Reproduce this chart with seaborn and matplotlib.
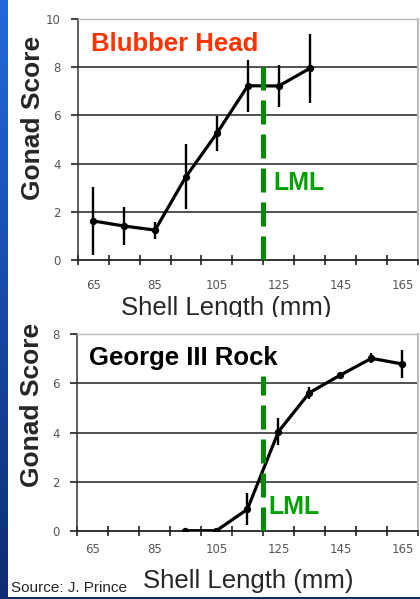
import numpy as np
import pandas as pd
import matplotlib
matplotlib.use("Agg")
import matplotlib.pyplot as plt
import seaborn as sns
from matplotlib.patches import Rectangle

sns.set_theme(style="white")
plt.rcParams['font.family'] = ['Liberation Sans', 'DejaVu Sans']

# ---- data ----
bh_length = [65, 75, 85, 95, 105, 115, 125, 135]
bh_score = [1.62, 1.41, 1.24, 3.46, 5.26, 7.23, 7.22, 7.95]
bh_err = [1.40, 0.80, 0.35, 1.35, 0.72, 1.08, 0.88, 1.42]

g3_length = [95, 105, 115, 125, 135, 145, 155, 165]
g3_score = [0.0, 0.0, 0.87, 4.03, 5.62, 6.34, 7.02, 6.79]
g3_err = [0.0, 0.0, 0.65, 0.55, 0.25, 0.08, 0.20, 0.57]

x_major = [60, 70, 80, 90, 100, 110, 120, 130, 140, 150, 160, 170]
x_labels = [65, 85, 105, 125, 145, 165]
lml = 120

W, H = 420, 599
fig = plt.figure(figsize=(W / 100, H / 100), dpi=100)
fig.patch.set_facecolor('white')

def fx(px):
    return px / W

def fy(py):
    return 1 - py / H

# blue gradient strip on the left
bg = fig.add_axes([0, 0, fx(8), 1])
grad = np.linspace(0, 1, 256).reshape(-1, 1)
cmap = matplotlib.colors.LinearSegmentedColormap.from_list('b', ['#2468dc', '#0e2c72'])
bg.imshow(grad, aspect='auto', cmap=cmap, extent=[0, 1, 0, 1], origin='upper')
bg.set_axis_off()
fig.patches.append(Rectangle((0, 0), 1, fy(597), transform=fig.transFigure,
                             facecolor='#0e2c72', edgecolor='none', zorder=5))


def style_axes(ax, ymax, xpad):
    ax.set_xlim(60, 170)
    ax.set_ylim(0, ymax)
    ax.set_xticks(x_major)
    ax.set_xticklabels([])
    ax.set_xticks(x_labels, minor=True)
    ax.set_xticklabels([str(v) for v in x_labels], minor=True)
    ax.tick_params(axis='x', which='major', direction='inout', length=7, width=1.2,
                   color='#222222', bottom=True)
    ax.tick_params(axis='x', which='minor', length=0, pad=xpad, labelsize=8.5,
                   labelcolor='#555555', bottom=True)
    ax.set_yticks(np.arange(0, ymax + 1, 2))
    ax.tick_params(axis='y', direction='out', length=5, width=1.2, color='#222222',
                   pad=7, labelsize=8.5, labelcolor='#555555', left=True)
    for lab in ax.get_xticklabels(minor=True) + ax.get_yticklabels():
        lab.set_family(['DejaVu Sans'])
    ax.grid(False)
    for y in np.arange(2, ymax, 2):
        ax.axhline(y, color='#222222', lw=1.1, zorder=1)
    ax.spines['left'].set_color('#333333')
    ax.spines['left'].set_linewidth(1.1)
    ax.spines['bottom'].set_color('#222222')
    ax.spines['bottom'].set_linewidth(1.3)
    ax.spines['top'].set_color('#bbbbbb')
    ax.spines['top'].set_linewidth(1.0)
    ax.spines['right'].set_color('#bbbbbb')
    ax.spines['right'].set_linewidth(1.5)
    ax.set_xlabel('')
    ax.set_ylabel('')


def draw(ax, xs, ys, es, ymax, lml_top):
    df = pd.DataFrame({'length': xs, 'score': ys})
    ax.errorbar(xs, ys, yerr=es, fmt='none', ecolor='black', elinewidth=1.7,
                capsize=0, zorder=3)
    sns.lineplot(data=df, x='length', y='score', ax=ax, color='black', lw=2.3,
                 marker='o', markersize=4.5, markeredgecolor='black', zorder=4)
    ax.plot([lml, lml], [0, lml_top], color='#008a00', lw=3.6,
            dashes=(4.8, 2.0), zorder=5, solid_capstyle='butt', dash_capstyle='butt')


# ---- top chart ----
ax1 = fig.add_axes([fx(77.7), fy(260), fx(418 - 77.7), fy(19) - fy(260)])
draw(ax1, bh_length, bh_score, bh_err, 10, 8.0)
style_axes(ax1, 10, 14)
ax1.text(0.04, 0.895, 'Blubber Head', transform=ax1.transAxes, color='#ff3300',
         fontsize=18.5, fontweight='bold', va='center', ha='left')
ax1.text(123.2, 3.2, 'LML', color='#00a000', fontsize=18, fontweight='bold',
         va='center', ha='left')

# ---- bottom chart ----
ax2 = fig.add_axes([fx(76.7), fy(530.7), fx(418 - 76.7), fy(334.3) - fy(530.7)])
draw(ax2, g3_length, g3_score, g3_err, 8, 6.3)
style_axes(ax2, 8, 9)
ax2.text(0.035, 0.88, 'George III Rock', transform=ax2.transAxes, color='black',
         fontsize=18.5, fontweight='bold', va='center', ha='left')
ax2.text(121.8, 0.97, 'LML', color='#00a000', fontsize=18, fontweight='bold',
         va='center', ha='left')

# axis titles
fig.text(fx(33), fy(118), 'Gonad Score', rotation=90, fontsize=19, fontweight='bold',
         ha='center', va='center')
fig.text(fx(32), fy(405), 'Gonad Score', rotation=90, fontsize=19, fontweight='bold',
         ha='center', va='center')
fig.text(fx(226), fy(315), 'Shell Length (mm)', fontsize=18.5, ha='center',
         va='baseline', zorder=2)
# cover descenders of the cut-off top label
fig.patches.append(Rectangle((fx(100), fy(330)), fx(300), fy(317) - fy(330),
                             transform=fig.transFigure, facecolor='white',
                             edgecolor='none', zorder=3))
fig.text(fx(248), fy(588), 'Shell Length (mm)', fontsize=18.5, ha='center',
         va='baseline')
fig.text(fx(11), fy(592), 'Source: J. Prince', fontsize=11, ha='left',
         va='baseline', family=['Liberation Sans', 'DejaVu Sans'])

fig.savefig('out.png', dpi=100)
